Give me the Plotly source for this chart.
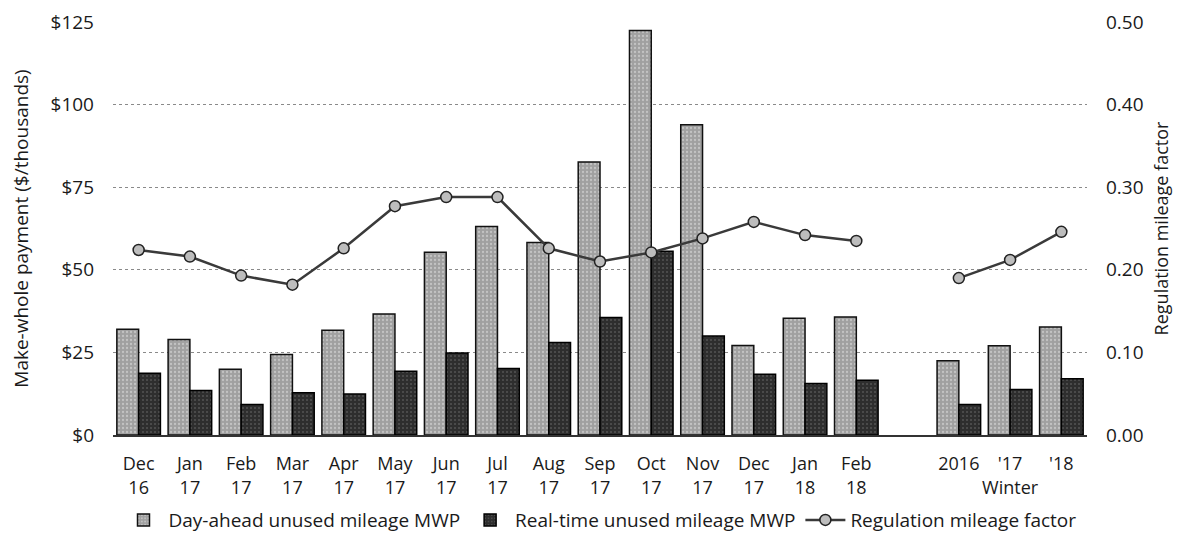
import plotly.graph_objects as go

categories = ["Dec<br>16", "Jan<br>17", "Feb<br>17", "Mar<br>17", "Apr<br>17", "May<br>17",
              "Jun<br>17", "Jul<br>17", "Aug<br>17", "Sep<br>17", "Oct<br>17", "Nov<br>17",
              "Dec<br>17", "Jan<br>18", "Feb<br>18", " ", "2016", "'17<br>Winter", "'18"]

day_ahead = [32.0, 28.9, 19.9, 24.4, 31.7, 36.6, 55.3, 63.1, 58.3, 82.6, 122.4, 93.9,
             27.1, 35.3, 35.7, None, 22.5, 27.0, 32.7]
real_time = [18.7, 13.5, 9.2, 12.8, 12.4, 19.3, 24.8, 20.1, 28.0, 35.6, 55.6, 30.0,
             18.4, 15.6, 16.6, None, 9.2, 13.8, 17.0]
mileage_factor = [0.224, 0.216, 0.193, 0.182, 0.226, 0.277, 0.288, 0.288, 0.226, 0.210,
                  0.221, 0.238, 0.258, 0.242, 0.235, None, 0.190, 0.212, 0.246]

font_family = "'Open Sans', Lato, sans-serif"

fig = go.Figure()
fig.add_trace(go.Bar(
    x=categories, y=day_ahead, name="Day-ahead unused mileage MWP",
    marker=dict(color="#a0a0a0", line=dict(color="#111111", width=1.5),
                pattern=dict(shape=".", fgcolor="#e6e6e6", size=4, solidity=0.25)),
))
fig.add_trace(go.Bar(
    x=categories, y=real_time, name="Real-time unused mileage MWP",
    marker=dict(color="#2e2e2e", line=dict(color="#000000", width=1.5),
                pattern=dict(shape=".", fgcolor="#777777", size=4, solidity=0.2)),
))
fig.add_trace(go.Scatter(
    x=categories, y=mileage_factor, name="Regulation mileage factor", yaxis="y2",
    mode="lines+markers", connectgaps=False,
    line=dict(color="#3a3a3a", width=2.5),
    marker=dict(symbol="circle", size=11, color="#bdbdbd", line=dict(color="#222222", width=1.5)),
))

fig.update_layout(
    width=1180, height=534,
    margin=dict(l=105, r=101, t=14, b=107, autoexpand=False),
    paper_bgcolor="white", plot_bgcolor="white",
    font=dict(family=font_family, size=19, color="#1a1a1a"),
    barmode="group", bargap=0.15, bargroupgap=0.0,
    xaxis=dict(type="category", categoryorder="array", categoryarray=categories,
               range=[-0.5, len(categories) - 0.5],
               showgrid=False, showline=True, linecolor="#333333", linewidth=1.5,
               ticks="", tickfont=dict(size=18), tickangle=0, automargin=False,
               ticklabelstandoff=12),
    yaxis=dict(range=[0, 125], dtick=25, tickprefix="$", showgrid=True,
               gridcolor="#8a8a8a", griddash="dot", gridwidth=1, zeroline=False,
               title=dict(text="Make-whole payment ($/thousands)", font=dict(size=19), standoff=20),
               tickfont=dict(size=19), automargin=False, ticklabelstandoff=18),
    yaxis2=dict(range=[0, 0.5], dtick=0.1, tickformat=".2f", overlaying="y", side="right",
                showgrid=False, zeroline=False,
                title=dict(text="Regulation mileage factor", font=dict(size=18), standoff=12),
                tickfont=dict(size=19), automargin=False, ticklabelstandoff=18),
    legend=dict(orientation="h", x=0.5, xanchor="center", y=-0.206, yanchor="middle",
                font=dict(size=19), traceorder="normal", itemwidth=40),
)

fig.write_html("out.html")
